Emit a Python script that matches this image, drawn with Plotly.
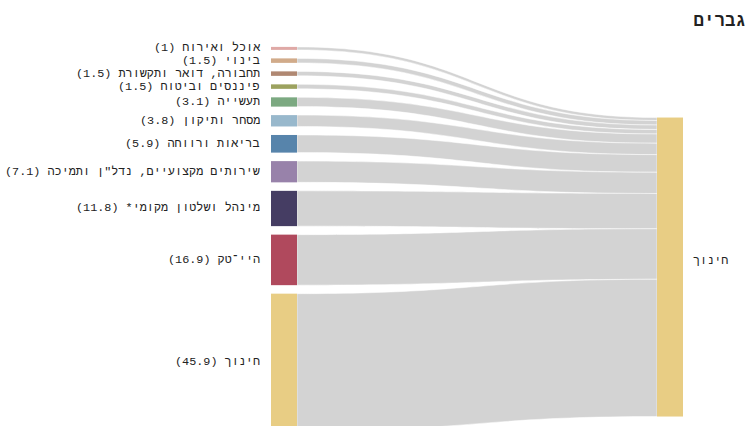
import plotly.graph_objects as go

# Employment of men by sector, flowing into education
SECTORS = [
    "אוכל ואירוח",
    "בינוי",
    "תחבורה, דואר ותקשורת",
    "פיננסים וביטוח",
    "תעשייה",
    "מסחר ותיקון",
    "בריאות ורווחה",
    "שירותים מקצועיים, נדל\"ן ותמיכה",
    "מינהל ושלטון מקומי*",
    "היי־טק",
    "חינוך",
]
SHARES = [1, 1.5, 1.5, 1.5, 3.1, 3.8, 5.9, 7.1, 11.8, 16.9, 45.9]
TARGET = "חינוך"
TITLE = "גברים"

SECTOR_COLORS = [
    "#dfa9a6", "#d1ab8a", "#b08872", "#9ca25f", "#7ca981", "#98b8cc",
    "#5784ab", "#9882aa", "#453d63", "#b0495d", "#e8cd84",
]
TARGET_COLOR = "#e8cd84"
LINK_COLOR = "#d3d3d3"

# Canvas and layout geometry (pixels)
W, H = 746, 426
MARGIN_TOP = 42
PLOT_H = 384
COL_LEFT, COL_RIGHT = 271, 683
THICK = 26
PAD = 8.5
TOP_OFFSET = 4.9
FONT = "Liberation Mono"
LABEL_SIZE = 11.8
TEXT_COLOR = "#222222"

RLM = "\u200f"

# Vertical scale used by the sankey layout: the tallest column fills the domain
n = len(SHARES)
ky = (PLOT_H - (n - 1) * PAD) / sum(SHARES)

# Stack the source nodes in the given order
centers = []
y = TOP_OFFSET
for v in SHARES:
    centers.append(y + v * ky / 2)
    y += v * ky + PAD
# Target node sits at the value-weighted centre of its sources
target_center = sum(v * c for v, c in zip(SHARES, centers)) / sum(SHARES)

dom_w = COL_RIGHT - COL_LEFT
node_x = [THICK / 2 / dom_w] * n + [1 - THICK / 2 / dom_w]
node_y = [c / PLOT_H for c in centers] + [target_center / PLOT_H]

# Paper fraction of the plot area that the domain occupies
dom_top = 1.0
dom_bottom = 1 - PLOT_H / (H - MARGIN_TOP)

fig = go.Figure(go.Sankey(
    arrangement="fixed",
    domain=dict(x=[COL_LEFT / W, COL_RIGHT / W], y=[max(dom_bottom, 0), dom_top]),
    node=dict(
        label=SECTORS + [TARGET],
        color=SECTOR_COLORS + [TARGET_COLOR],
        x=node_x,
        y=node_y,
        pad=PAD,
        thickness=THICK,
        line=dict(width=0),
    ),
    link=dict(
        source=list(range(n)),
        target=[n] * n,
        value=SHARES,
        color=LINK_COLOR,
        line=dict(color="white", width=0.5),
    ),
    textfont=dict(color="rgba(0,0,0,0)", size=1),
))

def paper_y(c):
    return 1 - c / (H - MARGIN_TOP)

annotations = []
for name, v, c in zip(SECTORS, SHARES, centers):
    annotations.append(dict(
        text=f"{RLM}{name} ({v:g}){RLM}",
        x=(COL_LEFT - 9) / W, xref="paper", xanchor="right",
        y=paper_y(c), yref="paper", yanchor="middle",
        showarrow=False,
        font=dict(family=FONT, size=LABEL_SIZE, color=TEXT_COLOR),
    ))
annotations.append(dict(
    text=f"{RLM}{TARGET}{RLM}",
    x=(COL_RIGHT + 8) / W, xref="paper", xanchor="left",
    y=paper_y(target_center), yref="paper", yanchor="middle",
    yshift=6,
    showarrow=False,
    font=dict(family=FONT, size=LABEL_SIZE, color=TEXT_COLOR),
))

fig.update_layout(
    width=W, height=H,
    margin=dict(l=0, r=0, t=MARGIN_TOP, b=0),
    paper_bgcolor="white",
    plot_bgcolor="white",
    title=dict(
        text=f"<b>{TITLE}</b>",
        x=1, xanchor="right", xref="container",
        y=1 - 19.5 / H, yanchor="middle", yref="container",
        font=dict(family=FONT, size=17.5, color=TEXT_COLOR),
        pad=dict(r=0, l=0, t=0, b=0),
    ),
    annotations=annotations,
)

fig.write_html("out.html", config={"displayModeBar": False})
